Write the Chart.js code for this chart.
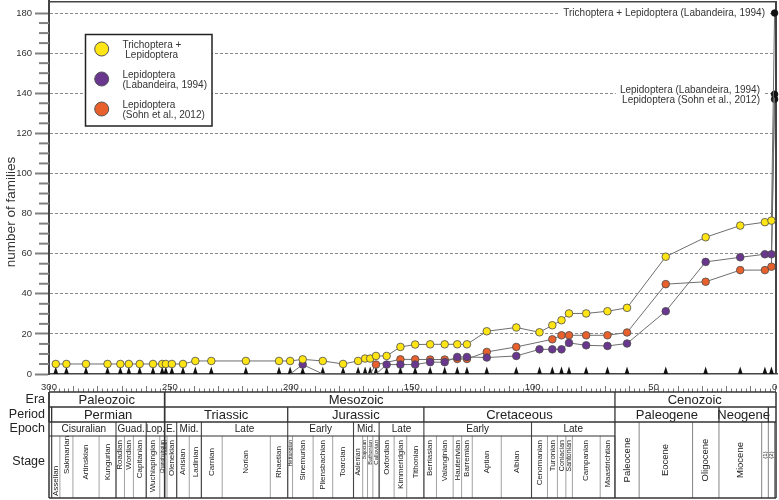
<!DOCTYPE html>
<html>
<head>
<meta charset="utf-8">
<script src="https://cdn.jsdelivr.net/npm/chart.js"></script>
<style>
html,body{margin:0;padding:0;background:#fff;}
#wrap{width:779px;height:500px;position:relative;}
canvas{display:block;}
</style>
</head>
<body>
<div id="wrap"><canvas id="c" width="779" height="500"></canvas></div>
<script>
// ---------- DATA ----------
// ages (Ma) of the plotted points (stage midpoints)
const ages = [297.2, 292.8, 284.7, 275.8, 270.5, 267.0, 262.5, 257.0, 253.2, 251.7, 249.2, 244.6,
  239.5, 232.9, 218.6, 204.9, 200.3, 195.1, 186.8, 178.4, 172.2, 169.3, 167.2, 164.8, 160.4,
  154.7, 148.6, 142.4, 136.4, 131.2, 127.2, 119.0, 106.8, 97.2, 91.9, 88.1, 85.0, 77.9, 69.1,
  61.0, 45.0, 28.5, 14.2, 4.0, 1.3, 0];
// Trichoptera + Lepidoptera
const trichLep = [5,5,5,5,5,5,5,5,5,5,5,5,
  6.5,6.5,6.5, 6.5,6.5,7.3,6.5,5,6.5,7.7,7.7,9,9,13.5,14.7,14.8,14.8,14.8,14.8,
  21.3,23.2,20.8,24.3,26.8,30.2,30.2,31.3,33,58.5,68.2,74,75.7,76.5,180];
// Lepidoptera (Labandeira, 1994)
const lepLabandeira = [null,null,null,null,null,null,null,null,null,null,null,null,null,null,null,null,
  0,4.7,0,0,0,0,0,0,4.7,4.7,4.7,5.9,5.9,8.5,8.5,8.2,9,12.3,12.3,12.3,15.5,14.3,14,15.2,
  31.3,55.9,58.2,59.7,59.7,139.5];
// Lepidoptera (Sohn et al., 2012)
const lepSohn = [null,null,null,null,null,null,null,null,null,null,null,null,null,null,null,null,
  null,null,null,null,null,null,
  0,4.7,null,7.3,7.3,7.2,7.2,7.5,7.5,11,13.5,null,17.3,19.3,19.3,19.3,19.3,20.7,
  44.8,46,51.8,51.8,53.5,137];
// stage markers (triangles) at these ages
const markerAges = ages.slice(0, 45);

const xTicks = [300, 250, 200, 150, 100, 50, 0];
const yTicks = [0, 20, 40, 60, 80, 100, 120, 140, 160, 180];
const seriesNames = [["Trichoptera +", " Lepidoptera"], ["Lepidoptera", "(Labandeira, 1994)"], ["Lepidoptera", "(Sohn et al., 2012)"]];
const endLabels = ["Trichoptera + Lepidoptera (Labandeira, 1994)", "Lepidoptera (Labandeira, 1994)", "Lepidoptera (Sohn et al., 2012)"];
const yTitle = "number of families";

// geologic time scale
const rowNames = ["Era", "Period", "Epoch", "Stage"];
const eras = [["Paleozoic", 300, 252.2], ["Mesozoic", 252.2, 66], ["Cenozoic", 66, 0]];
const periods = [["", 300, 298.9], ["Permian", 298.9, 252.2], ["Triassic", 252.2, 201.3], ["Jurassic", 201.3, 145],
  ["Cretaceous", 145, 66], ["Paleogene", 66, 23], ["Neogene", 23, 2.58], ["", 2.58, 0]];
const epochs = [["Cisuralian", 298.9, 272.3], ["Guad.", 272.3, 259.8], ["Lop.", 259.8, 252.2], ["E.", 252.2, 247.2],
  ["Mid.", 247.2, 237], ["Late", 237, 201.3], ["Early", 201.3, 174.1], ["Mid.", 174.1, 163.5], ["Late", 163.5, 145],
  ["Early", 145, 100.5], ["Late", 100.5, 66]];
const cenoEpochs = [["Paleocene", 66, 56], ["Eocene", 56, 33.9], ["Oligocene", 33.9, 23], ["Miocene", 23, 5.33],
  ["(1)", 5.33, 2.58], ["(2)", 2.58, 0.0117]];
const stageNames = ["Asselian", "Sakmarian", "Artinskian", "Kungurian", "Roadian", "Wordian", "Capitanian",
  "Wuchiapingian", "Changhsingian", "Induan", "Olenekian", "Anisian", "Ladinian", "Carnian", "Norian", "Rhaetian",
  "Hettangian", "Sinemurian", "Pliensbachian", "Toarcian", "Aalenian", "Bajocian", "Bathonian", "Callovian",
  "Oxfordian", "Kimmeridgian", "Tithonian", "Berriasian", "Valanginian", "Hauterivian", "Barremian", "Aptian",
  "Albian", "Cenomanian", "Turonian", "Coniacian", "Santonian", "Campanian", "Maastrichtian"];
const stageBounds = [298.9, 295.5, 290.1, 279.3, 272.3, 268.8, 265.1, 259.8, 254.2, 252.2, 251.2, 247.2, 242, 237,
  228.4, 208.5, 201.3, 199.3, 190.8, 182.7, 174.1, 170.3, 168.3, 166.1, 163.5, 157.3, 152.1, 145, 139.8, 132.9,
  129.4, 125, 113, 100.5, 93.9, 89.8, 86.3, 83.6, 72.1, 66];

// ---------- STYLE ----------
const FONT = "'Liberation Sans', Arial, Helvetica, sans-serif";
const colors = ["#FFE514", "#6A378F", "#E8612C"];
const stageSize = {Changhsingian: 5, Induan: 5, Hettangian: 5.5, Bajocian: 5, Bathonian: 5.5, Callovian: 6,
  Coniacian: 7, Santonian: 7, Aalenian: 7};
const stageCentered = new Set(["Artinskian", "Kungurian", "Anisian", "Ladinian", "Carnian", "Norian", "Rhaetian",
  "Toarcian", "Aalenian", "Aptian", "Albian", "Tithonian"]);

function toPts(vals) {
  const out = [];
  vals.forEach((v, i) => { if (v !== null && v !== undefined) out.push({x: ages[i], y: v}); });
  return out;
}
function mkDataset(label, vals, color) {
  return {
    label: label, data: toPts(vals), clip: 6,
    borderColor: "#6e6e6e", borderWidth: 1, tension: 0,
    pointRadius: c => (c.raw && c.raw.y === 0) ? 0 : (c.raw && c.raw.x === 0 ? 3.3 : 3.8),
    pointBackgroundColor: c => (c.raw && c.raw.x === 0) ? "#111" : color,
    pointBorderColor: c => (c.raw && c.raw.x === 0) ? "#111" : "#4a4a4a",
    pointBorderWidth: 0.8
  };
}

function text(c, s, x, y, size, align, color, rot, weight) {
  c.save();
  c.font = (weight || "") + " " + size + "px " + FONT;
  c.fillStyle = color || "#222";
  c.textAlign = align || "center";
  c.textBaseline = "middle";
  c.translate(x, y);
  if (rot) c.rotate(rot);
  c.fillText(s, 0, 0);
  c.restore();
}
function line(c, x1, y1, x2, y2, w, col) {
  c.save(); c.lineWidth = w; c.strokeStyle = col; c.beginPath(); c.moveTo(x1, y1); c.lineTo(x2, y2); c.stroke(); c.restore();
}

const framePlugin = {
  id: "frame",
  beforeDatasetsDraw(chart) {
    const c = chart.ctx, a = chart.chartArea, ys = chart.scales.y, xs = chart.scales.x;
    line(c, a.left, a.top + 0.75, a.right, a.top + 0.75, 1.5, "#444");
    line(c, a.right - 1, a.top, a.right - 1, a.bottom, 2, "#444");
    for (let v = 5; v < 180; v += 5) {
      if (v % 20 === 0) continue;
      const y = ys.getPixelForValue(v);
      line(c, a.left - 10, y, a.left, y, 2, "#808080");
    }
    c.save(); c.fillStyle = "#111";
    markerAges.forEach(m => {
      const x = xs.getPixelForValue(m);
      c.beginPath(); c.moveTo(x - 2.4, a.bottom); c.lineTo(x + 2.4, a.bottom); c.lineTo(x, a.bottom - 7.5); c.closePath(); c.fill();
    });
    c.restore();
    text(c, yTitle, 11, 212, 13.5, "center", "#333", -Math.PI / 2);
  },
  afterDatasetsDraw(chart) {
    const c = chart.ctx, ys = chart.scales.y;
    c.save();
    c.fillStyle = "#fff"; c.fillRect(85.5, 34.5, 126.5, 91.5);
    c.lineWidth = 1.5; c.strokeStyle = "#222"; c.strokeRect(85.5, 34.5, 126.5, 91.5);
    c.restore();
    seriesNames.forEach((lines, i) => {
      const cy = 49 + i * 30;
      c.save(); c.beginPath(); c.arc(101.7, cy, 7, 0, Math.PI * 2);
      c.fillStyle = colors[i]; c.fill(); c.lineWidth = 1; c.strokeStyle = "#555"; c.stroke(); c.restore();
      text(c, lines[0], 122.5, cy - 3.3, 10, "left", "#333");
      text(c, lines[1], 122.5, cy + 6.7, 10, "left", "#333");
    });
    const last = [trichLep[trichLep.length - 1], lepLabandeira[lepLabandeira.length - 1], lepSohn[lepSohn.length - 1]];
    const y0 = ys.getPixelForValue(last[0]);
    c.save(); c.font = "10px " + FONT;
    const w = c.measureText(endLabels[0]).width;
    c.fillStyle = "#fff"; c.fillRect(765 - w - 4, y0 - 6, w + 7, 13);
    const y1 = ys.getPixelForValue(last[1]);
    const w1 = Math.max(c.measureText(endLabels[1]).width, c.measureText(endLabels[2]).width);
    c.fillRect(760 - w1 - 4, y1 - 10, w1 + 7, 21);
    c.restore();
    text(c, endLabels[0], 765, y0 + 0.5, 10, "right", "#333");
    text(c, endLabels[1], 760, y1 - 4.3, 10, "right", "#333");
    text(c, endLabels[2], 760, y1 + 5.5, 10, "right", "#333");
  }
};

const timescalePlugin = {
  id: "timescale",
  afterDraw(chart) {
    const c = chart.ctx, xs = chart.scales.x;
    const X = v => xs.getPixelForValue(v);
    const L = X(300), R = chart.chartArea.right - 1;
    const yE = 392, yP = 407, yEp = 422, yS = 436, yB = 498;
    for (let v = 0; v <= 300; v += 2) {
      const x = Math.round(X(v)) + 0.5;
      line(c, x, yE, x, yE - (v % 10 === 0 ? 6 : 3.5), 0.8, "#555");
    }
    const rowY = [399.5, 414.5, 429, 462];
    rowNames.forEach((n, i) => text(c, n, 45, rowY[i], 12.5, "right", "#222"));
    eras.forEach(e => {
      const cx = e[0] === "Mesozoic" ? X(173) : (X(e[1]) + X(e[2])) / 2;
      text(c, e[0], cx, 400, 13, "center", "#222");
    });
    periods.forEach(p => { if (p[0]) text(c, p[0], (X(p[1]) + X(p[2])) / 2, 415, 13, "center", "#222"); });
    epochs.forEach(p => text(c, p[0], (X(p[1]) + X(p[2])) / 2, 429.5, 10, "center", "#222"));
    cenoEpochs.forEach(p => {
      const small = p[0].startsWith("(");
      text(c, p[0], (X(p[1]) + X(p[2])) / 2, small ? 455 : 460, small ? 6 : 9.5, "center", "#222", -Math.PI / 2);
    });
    stageNames.forEach((n, i) => {
      const x = (X(stageBounds[i]) + X(stageBounds[i + 1])) / 2;
      const size = stageSize[n] || 8;
      if (n === "Asselian") text(c, n, x, 496, size, "left", "#222", -Math.PI / 2);
      else if (n === "Sakmarian") text(c, n, x, 455, size, "center", "#222", -Math.PI / 2);
      else if (stageCentered.has(n)) text(c, n, x, 462, size, "center", "#222", -Math.PI / 2);
      else text(c, n, x, 440, size, "right", "#222", -Math.PI / 2);
    });
    stageBounds.forEach(b => line(c, X(b), yS, X(b), yB, 0.8, "#8a8a8a"));
    cenoEpochs.forEach(p => line(c, X(p[2]), yEp, X(p[2]), yB, 0.9, "#777"));
    epochs.forEach(p => { line(c, X(p[1]), yEp, X(p[1]), yB, 1.1, "#444"); });
    line(c, X(66), yEp, X(66), yB, 1.3, "#333");
    periods.forEach(p => line(c, X(p[1]), yP, X(p[1]), yEp, 1.3, "#333"));
    eras.forEach(e => line(c, X(e[1]), yE, X(e[1]), yP, 1.3, "#333"));
    line(c, X(252.2), yE, X(252.2), yB, 1.5, "#333");
    line(c, L, yE, R, yE, 1.3, "#333");
    line(c, L, yP, R, yP, 1.3, "#333");
    line(c, L, yEp, R, yEp, 1.3, "#333");
    line(c, L, yS, X(66), yS, 1.2, "#333");
    line(c, L, yB, R, yB, 1.3, "#333");
    line(c, L, yE, L, yB, 1.5, "#333");
    line(c, R, yE, R, yB, 1.5, "#333");
  }
};

new Chart(document.getElementById("c"), {
  type: "line",
  data: {
    datasets: [
      mkDataset(seriesNames[0].join(" "), trichLep, colors[0]),
      mkDataset(seriesNames[1].join(" "), lepLabandeira, colors[1]),
      mkDataset(seriesNames[2].join(" "), lepSohn, colors[2])
    ]
  },
  options: {
    responsive: false, animation: false, devicePixelRatio: 1, events: [],
    layout: {autoPadding: false, padding: {top: 1, right: 2, left: 0, bottom: 0}},
    plugins: {legend: {display: false}, tooltip: {enabled: false}},
    scales: {
      x: {
        type: "linear", reverse: true, min: -1, max: 300,
        afterBuildTicks: s => { s.ticks = xTicks.map(v => ({value: v})); },
        afterFit: s => { s.height = 126; s.paddingLeft = 0; s.paddingRight = 0; },
        ticks: {autoSkip: false, maxRotation: 0, padding: 0, color: "#333", font: {size: 9.5, family: FONT}},
        grid: {display: false},
        border: {display: true, color: "#444", width: 1.5}
      },
      y: {
        min: 0, max: 186,
        afterBuildTicks: s => { s.ticks = yTicks.map(v => ({value: v})); },
        afterFit: s => { s.width = 49; s.paddingTop = 0; s.paddingBottom = 0; },
        ticks: {padding: 3, color: "#333", font: {size: 9.5, family: FONT}},
        grid: {
          color: c => (c.tick && c.tick.value === 0) ? "rgba(0,0,0,0)" : "#8a8a8a",
          lineWidth: 1, tickLength: 14, tickColor: "#808080", tickWidth: 2, drawTicks: true
        },
        border: {display: true, color: "#444", width: 2, dash: [3, 2]}
      }
    }
  },
  plugins: [framePlugin, timescalePlugin]
});
</script>
</body>
</html>
